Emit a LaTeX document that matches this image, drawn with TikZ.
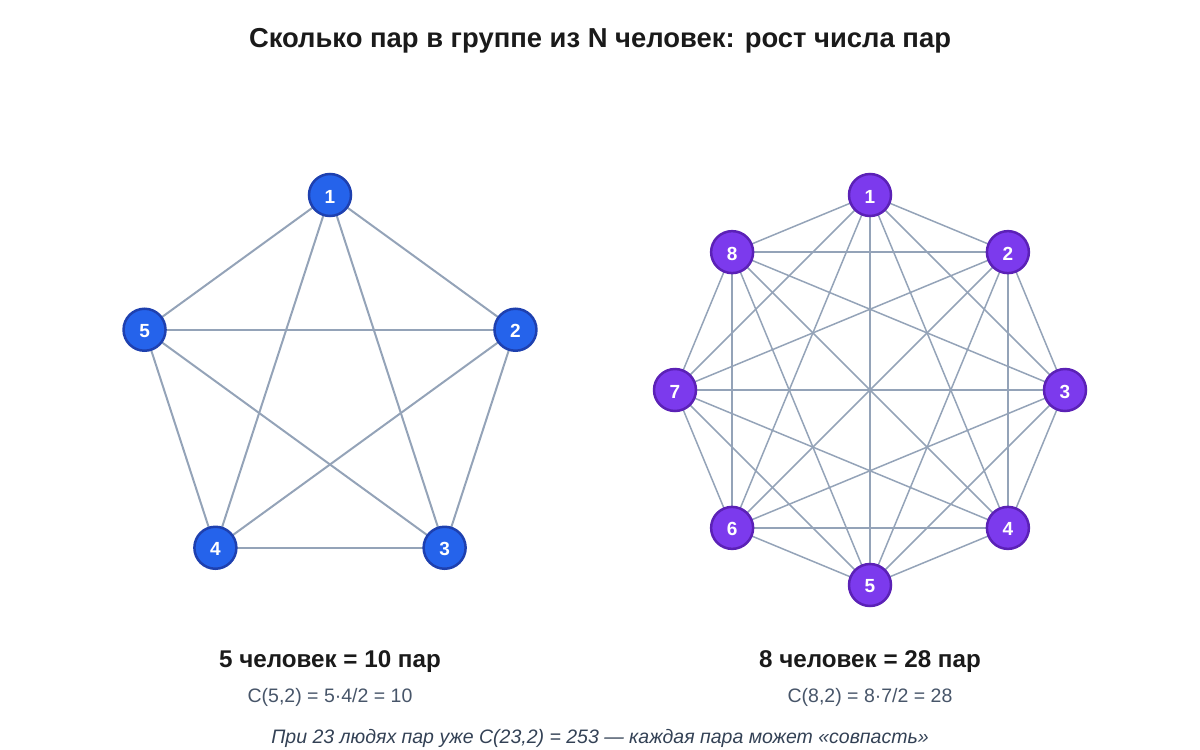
\documentclass[tikz,border=0pt]{standalone}
\usepackage{fontspec}
\setmainfont{Liberation Sans}
\usetikzlibrary{backgrounds}
\definecolor{edgec}{HTML}{94A3B8}
\definecolor{bluefill}{HTML}{2563EB}
\definecolor{blueline}{HTML}{1E40AF}
\definecolor{purpfill}{HTML}{7C3AED}
\definecolor{purpline}{HTML}{5B21B6}
\definecolor{titlec}{HTML}{1A1A1A}
\definecolor{formc}{HTML}{475569}
\definecolor{notec}{HTML}{334155}
\tikzset{
  pnode/.style={circle, minimum size=42pt, inner sep=0pt, line width=2.5pt, text=white, font=\fontsize{19}{19}\selectfont\bfseries},
  bnode/.style={pnode, draw=blueline, fill=bluefill},
  vnode/.style={pnode, draw=purpline, fill=purpfill},
  numt/.style={text=white, font=\fontsize{19}{19}\selectfont\bfseries},
  edgel/.style={draw=edgec, line width=2pt},
  edger/.style={draw=edgec, line width=1.5pt},
  titlet/.style={text=titlec, font=\fontsize{27.4}{28}\selectfont\bfseries},
  headt/.style={text=titlec, font=\fontsize{24.2}{25}\selectfont\bfseries},
  formt/.style={text=formc, font=\fontsize{19.5}{20}\selectfont},
  notet/.style={text=notec, font=\fontsize{19.5}{20}\selectfont\itshape},
}
\begin{document}
\begin{tikzpicture}[x=1pt,y=-1pt]
\useasboundingbox (0,0) rectangle (1200,750);
\node[titlet] (title) at (600,41) {Сколько пар в группе из N человек: рост числа пар};
% left pentagon
\foreach \i in {1,...,5}{
  \node[bnode, label={[numt, yshift=-1.5pt]center:\i}] (a\i) at ({330+195*sin(72*(\i-1))},{390-195*cos(72*(\i-1))}) {};
}
\begin{pgfonlayer}{background}
\foreach \i in {1,...,5}{
  \foreach \j in {1,...,5}{
    \ifnum\i<\j \draw[edgel] (a\i.center) -- (a\j.center); \fi
  }
}
\end{pgfonlayer}
% right octagon
\foreach \i in {1,...,8}{
  \node[vnode, label={[numt, yshift=-1.5pt]center:\i}] (b\i) at ({870+195*sin(45*(\i-1))},{390-195*cos(45*(\i-1))}) {};
}
\begin{pgfonlayer}{background}
\foreach \i in {1,...,8}{
  \foreach \j in {1,...,8}{
    \ifnum\i<\j \draw[edger] (b\i.center) -- (b\j.center); \fi
  }
}
\end{pgfonlayer}
\node[headt] (h1) at (330,662) {5 человек = 10 пар};
\node[formt] (f1) at (330,697) {C(5,2) = 5·4/2 = 10};
\node[headt] (h2) at (870,662) {8 человек = 28 пар};
\node[formt] (f2) at (870,697) {C(8,2) = 8·7/2 = 28};
\node[notet] (note) at (600,738) {При 23 людях пар уже C(23,2) = 253 — каждая пара может «совпасть»};
\end{tikzpicture}
\end{document}
